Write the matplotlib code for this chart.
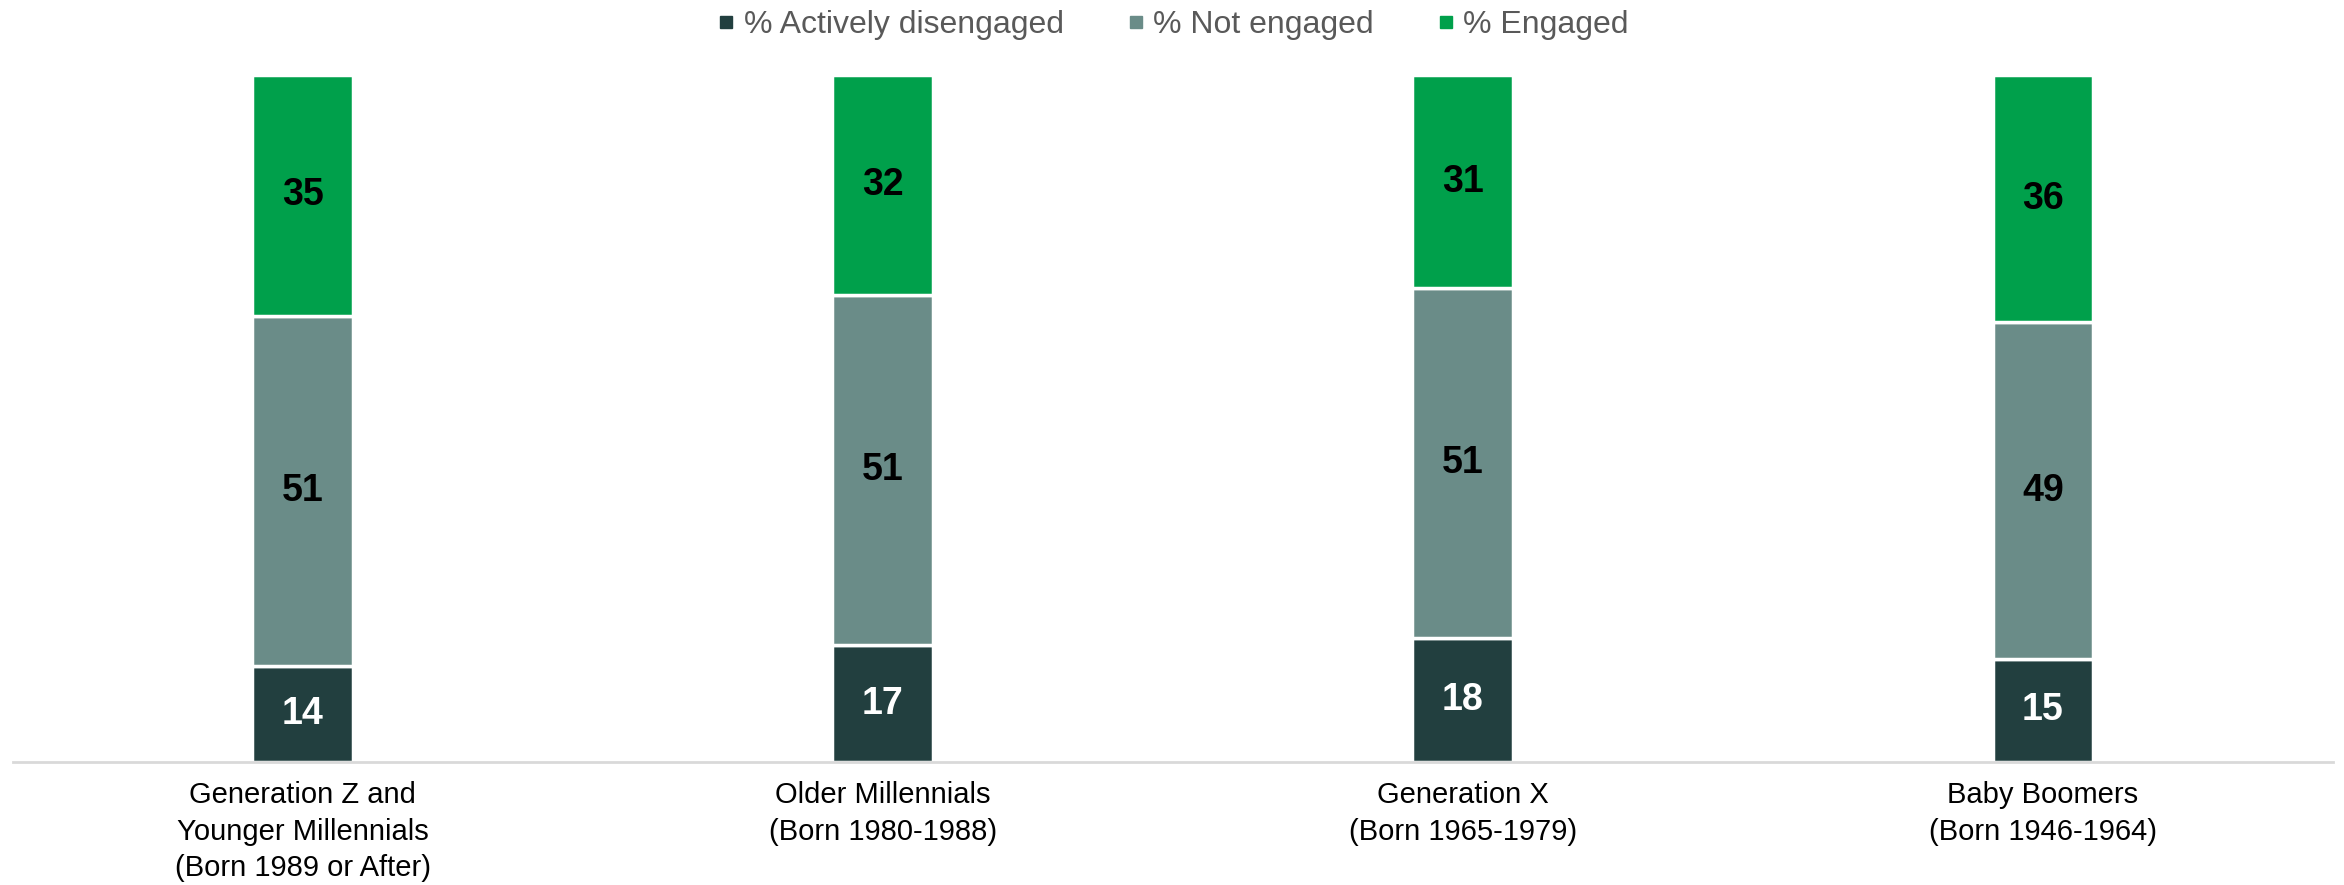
import matplotlib.pyplot as plt
from matplotlib.lines import Line2D

plt.rcParams['font.family'] = ['Liberation Sans', 'DejaVu Sans']

# dados
geracoes = ["Generation Z and\nYounger Millennials\n(Born 1989 or After)",
            "Older Millennials\n(Born 1980-1988)",
            "Generation X\n(Born 1965-1979)",
            "Baby Boomers\n(Born 1946-1964)"]
ativamente_desengajados = [14, 17, 18, 15]
nao_engajados = [51, 51, 51, 49]
engajados = [35, 32, 31, 36]

series = ["% Actively disengaged", "% Not engaged", "% Engaged"]
cores = ['#223F3F', '#6A8C88', '#00A04B']
cores_texto = ['white', 'black', 'black']

fig = plt.figure(figsize=(23.44, 8.85), dpi=100)
ax = fig.add_axes([0.0055, 0.139, 0.9898, 0.776])

x = list(range(len(geracoes)))
base = [0] * len(geracoes)
for valores, cor, cor_txt in zip([ativamente_desengajados, nao_engajados, engajados], cores, cores_texto):
    barras = ax.bar(x, valores, bottom=base, width=0.174, color=cor,
                    edgecolor='white', linewidth=2.5)
    for b, v, b0 in zip(barras, valores, base):
        ax.text(b.get_x() + b.get_width() / 2, b0 + v / 2, str(v),
                ha='center', va='center', fontsize=27, fontweight='bold', color=cor_txt)
    base = [a + b for a, b in zip(base, valores)]

ax.set_xlim(-0.5, 3.5)
ax.set_ylim(0, 100)
ax.set_xticks(x)
ax.set_xticklabels(geracoes, fontsize=21, color='black', linespacing=1.38)
ax.tick_params(axis='x', length=0, pad=14)
ax.set_yticks([])
for lado in ['top', 'right', 'left']:
    ax.spines[lado].set_visible(False)
ax.spines['bottom'].set_color('#D9D9D9')
ax.spines['bottom'].set_linewidth(2)

handles = [Line2D([0], [0], marker='s', linestyle='', markersize=9,
                  markerfacecolor=c, markeredgecolor=c) for c in cores]
leg = fig.legend(handles, series, loc='center', bbox_to_anchor=(0.5, 0.972), ncol=3,
                 frameon=False, fontsize=23, handletextpad=0.2, columnspacing=1.9,
                 handlelength=0.7)
for t in leg.get_texts():
    t.set_color('#595959')

fig.savefig('out.png', dpi=100)
